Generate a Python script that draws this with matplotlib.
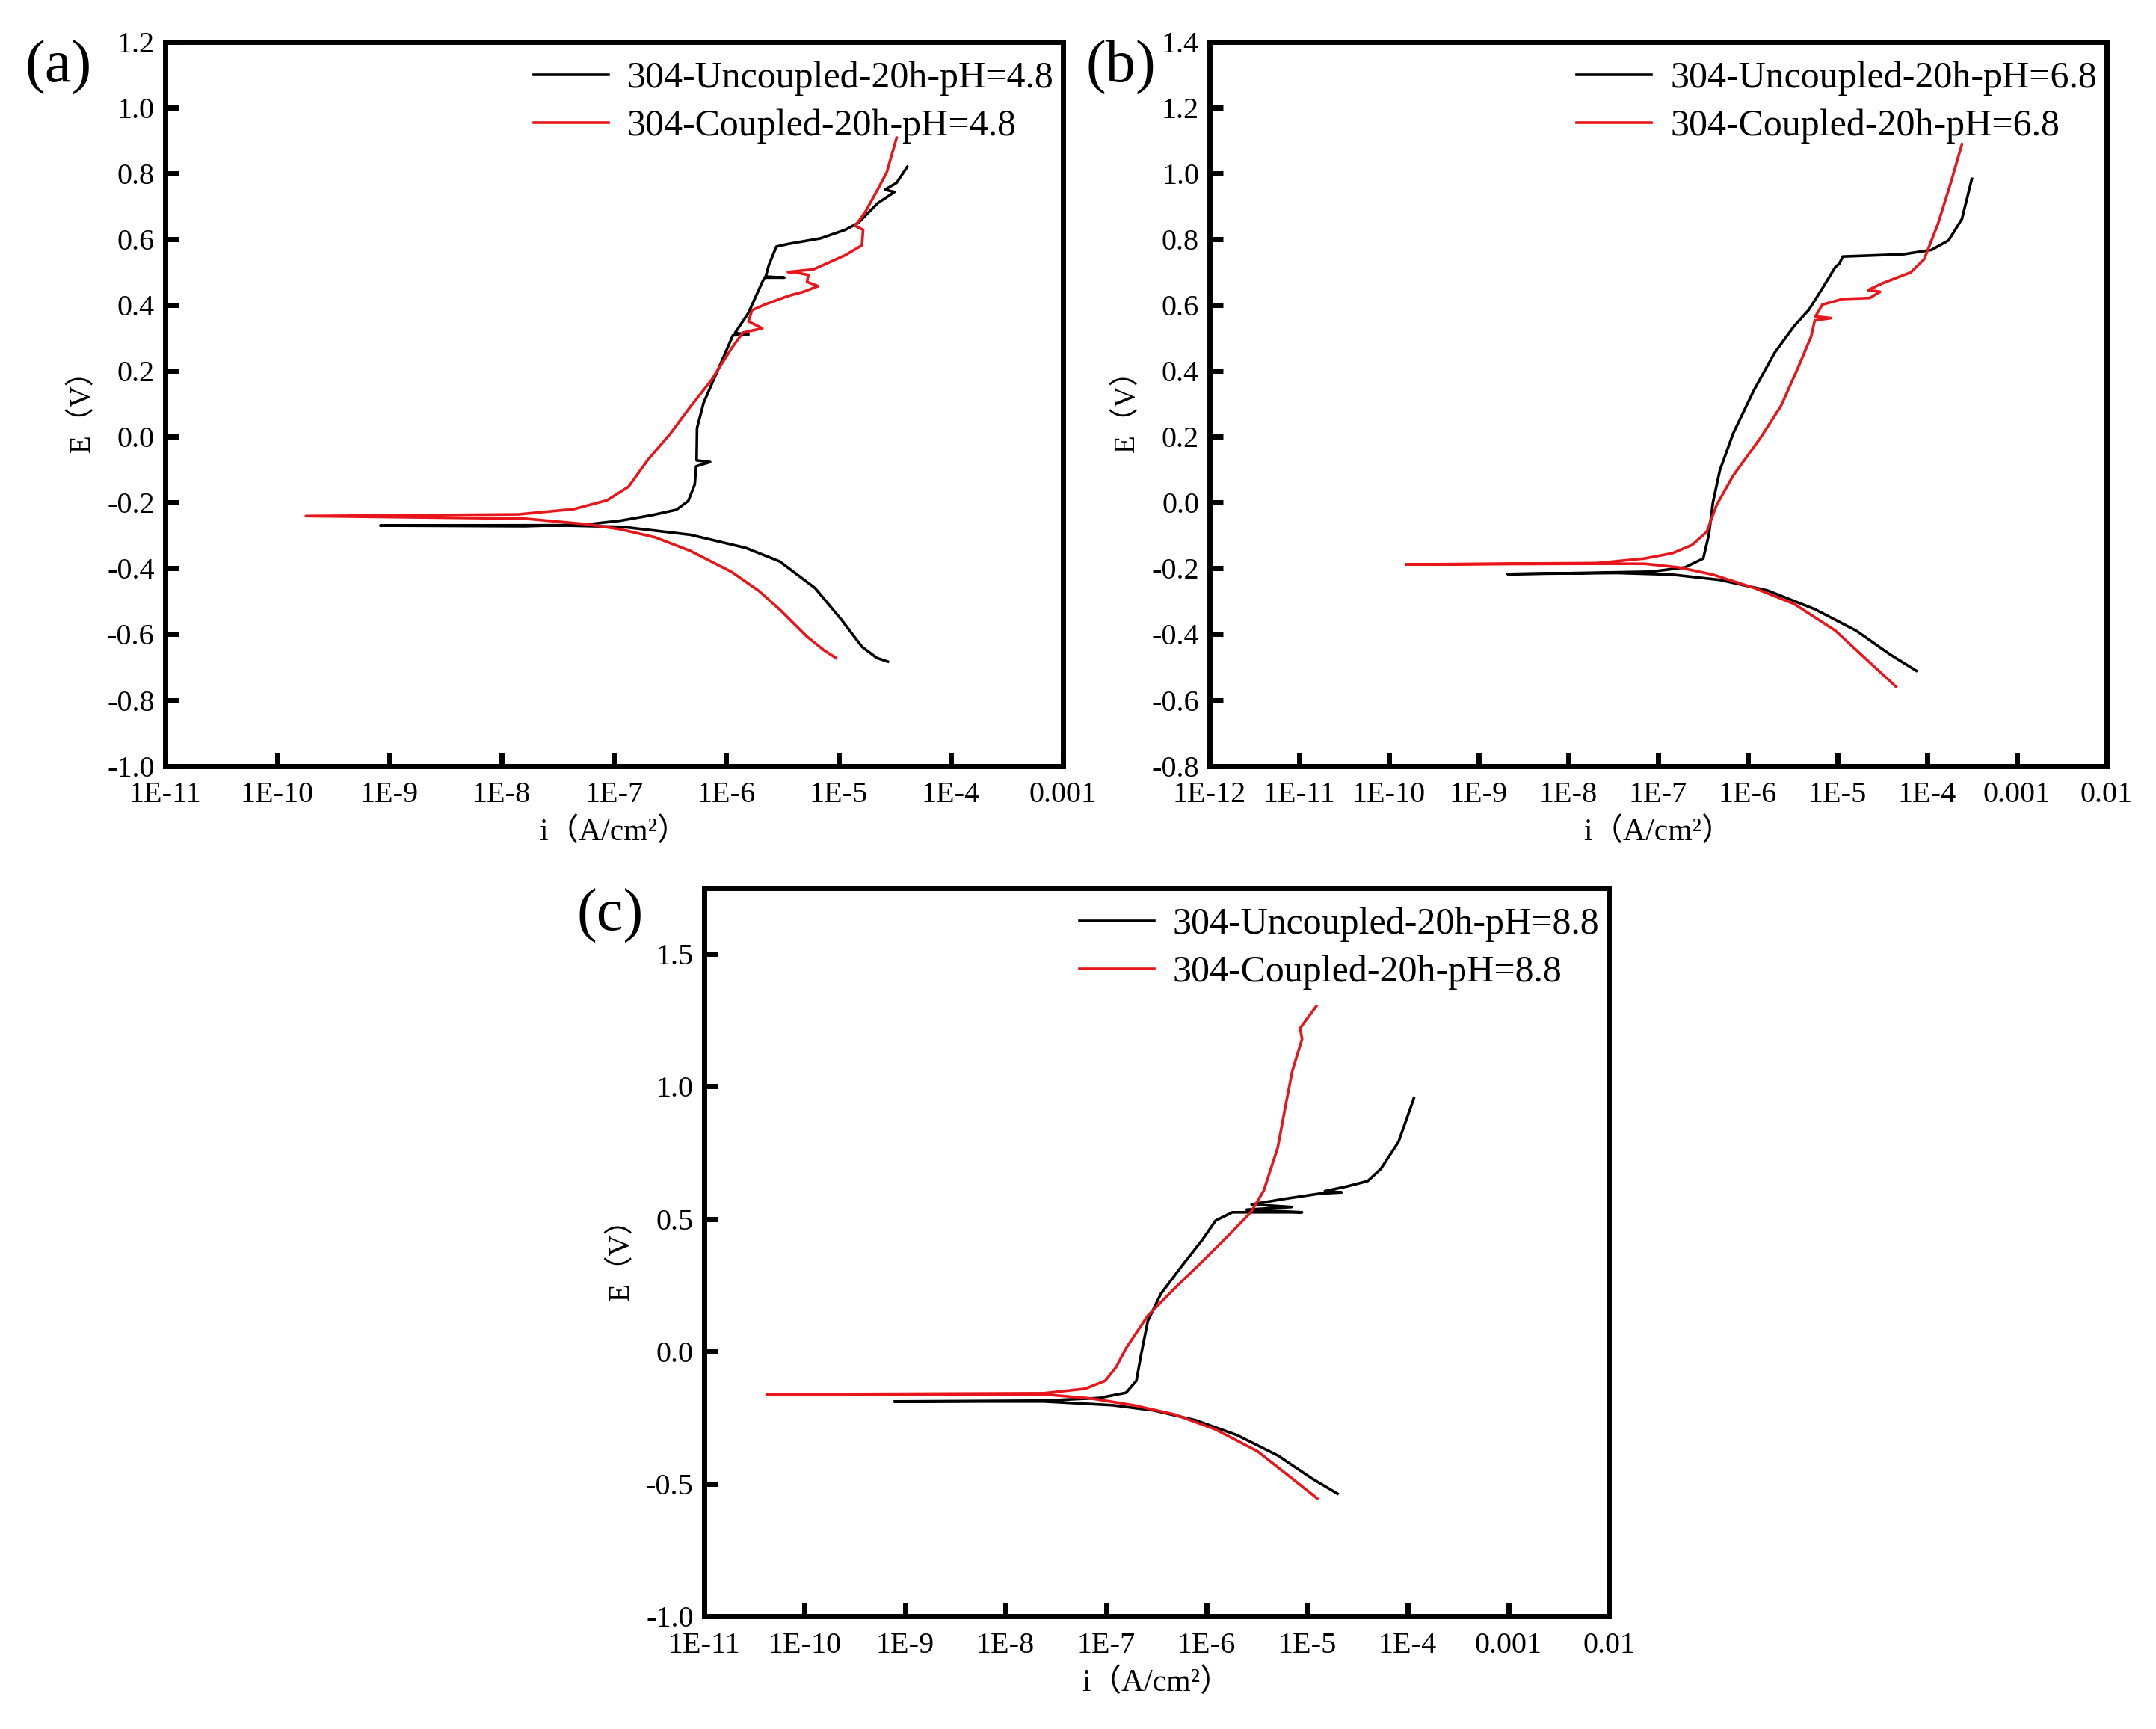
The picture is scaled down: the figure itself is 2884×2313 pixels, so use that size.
import matplotlib
matplotlib.use("Agg")
from matplotlib import pyplot as plt
from matplotlib.ticker import NullLocator

plt.rcParams['font.family'] = ['Liberation Serif', 'Noto Sans CJK SC']

# ---- panel (a) pH=4.8 : current (A/cm2) / potential (V)
a_unc_i = [2.75e-5, 2.2e-5, 1.62e-5, 1.07e-5, 6.2e-6, 3.0e-6, 1.5e-6, 4.8e-7, 1.2e-7, 2.8e-8, 8.3e-10,
           1.6e-8, 6.0e-8, 1.15e-7, 2.2e-7, 3.6e-7, 4.6e-7, 5.25e-7, 5.4e-7, 7.2e-7, 5.45e-7, 5.5e-7,
           6.3e-7, 8.3e-7, 1.15e-6, 1.58e-6, 1.2e-6, 1.58e-6, 2.1e-6, 2.2e-6, 3.3e-6, 2.25e-6,
           2.4e-6, 2.8e-6, 3.55e-6, 6.9e-6, 1.15e-5, 1.5e-5, 2.24e-5, 3.16e-5, 2.6e-5, 3.3e-5, 4.1e-5]
a_unc_E = [-0.683, -0.672, -0.638, -0.557, -0.46, -0.379, -0.338, -0.298, -0.274, -0.269, -0.270,
           -0.272, -0.266, -0.255, -0.238, -0.222, -0.195, -0.145, -0.09, -0.077, -0.072, 0.026,
           0.103, 0.197, 0.308, 0.31, 0.315, 0.376, 0.47, 0.483, 0.483, 0.486,
           0.521, 0.577, 0.585, 0.602, 0.628, 0.649, 0.709, 0.743, 0.75, 0.771, 0.819]
a_cpl_i = [9.5e-6, 7.4e-6, 5.2e-6, 3.0e-6, 1.95e-6, 1.12e-6, 4.8e-7, 2.34e-7, 1.17e-7, 5.75e-8, 1.62e-8, 1.8e-10,
           1.4e-8, 4.4e-8, 8.7e-8, 1.35e-7, 2.0e-7, 3.2e-7, 4.8e-7, 7.4e-7, 1.12e-6, 1.41e-6,
           2.1e-6, 1.58e-6, 1.7e-6, 2.24e-6, 2.6e-6, 3.3e-6, 3.8e-6, 4.9e-6, 6.6e-6, 5.25e-6,
           5.4e-6, 4.6e-6, 3.55e-6, 6.0e-6, 8.9e-6, 1.15e-5, 1.62e-5, 1.66e-5, 1.41e-5, 1.74e-5,
           2.24e-5, 2.7e-5, 3.3e-5]
a_cpl_E = [-0.672, -0.648, -0.606, -0.525, -0.468, -0.411, -0.347, -0.306, -0.282, -0.266, -0.249, -0.241,
           -0.236, -0.22, -0.193, -0.152, -0.071, 0.01, 0.091, 0.172, 0.269, 0.316,
           0.329, 0.35, 0.384, 0.402, 0.41, 0.423, 0.43, 0.44, 0.457, 0.47,
           0.491, 0.496, 0.50, 0.508, 0.534, 0.551, 0.581, 0.628, 0.64, 0.683,
           0.751, 0.803, 0.908]

# ---- panel (b) pH=6.8
b_unc_i = [7.6e-5, 3.9e-5, 1.62e-5, 5.6e-6, 1.66e-6, 4.9e-7, 1.45e-7, 3.5e-8, 2.1e-9,
           8.7e-9, 8.5e-8, 2.0e-7, 3.2e-7, 3.7e-7, 4.1e-7, 4.9e-7, 6.9e-7, 1.17e-6, 2.0e-6,
           3.3e-6, 4.8e-6, 6.8e-6, 9.5e-6, 1.05e-5, 1.15e-5, 2.3e-5, 5.5e-5, 1.12e-4, 1.74e-4,
           2.45e-4, 3.16e-4]
b_unc_E = [-0.511, -0.462, -0.389, -0.324, -0.267, -0.235, -0.219, -0.214, -0.217,
           -0.215, -0.21, -0.197, -0.17, -0.097, 0.0, 0.098, 0.21, 0.34, 0.455,
           0.536, 0.585, 0.65, 0.715, 0.725, 0.747, 0.75, 0.754, 0.767, 0.796,
           0.861, 0.983]
b_cpl_i = [4.5e-5, 2.3e-5, 9.5e-6, 3.3e-6, 1.17e-6, 4.1e-7, 1.7e-7, 7.1e-8, 1.74e-8, 1.55e-10,
           2.1e-8, 7.1e-8, 1.45e-7, 2.4e-7, 3.5e-7, 4.5e-7, 6.9e-7, 1.38e-6, 2.35e-6, 3.6e-6,
           5.1e-6, 5.6e-6, 8.5e-6, 5.7e-6, 6.8e-6, 1.15e-5, 2.3e-5, 3.0e-5, 2.2e-5, 3.2e-5,
           6.6e-5, 9.3e-5, 1.32e-4, 1.86e-4, 2.45e-4]
b_cpl_E = [-0.559, -0.486, -0.389, -0.308, -0.259, -0.219, -0.197, -0.186, -0.186, -0.188,
           -0.184, -0.17, -0.154, -0.129, -0.089, -0.008, 0.082, 0.195, 0.293, 0.406,
           0.504, 0.553, 0.56, 0.565, 0.601, 0.618, 0.621, 0.64, 0.645, 0.666,
           0.699, 0.739, 0.845, 0.975, 1.088]

# ---- panel (c) pH=8.8
c_unc_i = [2.0e-5, 1.12e-5, 5.1e-6, 2.0e-6, 7.8e-7, 3.0e-7, 1.15e-7, 2.4e-8, 7.8e-10,
           2.4e-8, 8.5e-8, 1.58e-7, 2.0e-7, 2.24e-7, 2.6e-7, 3.5e-7, 5.6e-7, 9.1e-7, 1.23e-6,
           1.8e-6, 8.9e-6, 2.5e-6, 7.0e-6, 2.8e-6, 6.0e-6, 1.35e-5, 2.2e-5, 1.5e-5, 2.5e-5,
           4.0e-5, 5.4e-5, 8.1e-5, 1.15e-4]
c_unc_E = [-0.537, -0.48, -0.393, -0.316, -0.26, -0.223, -0.203, -0.189, -0.189,
           -0.186, -0.176, -0.156, -0.111, -0.008, 0.115, 0.217, 0.32, 0.422, 0.494,
           0.525, 0.525, 0.535, 0.545, 0.555, 0.576, 0.596, 0.60, 0.605, 0.623,
           0.643, 0.689, 0.791, 0.955]
c_cpl_i = [1.26e-5, 7.1e-6, 3.2e-6, 1.23e-6, 4.8e-7, 1.86e-7, 7.2e-8, 2.4e-8, 4.2e-11,
           2.4e-8, 6.2e-8, 9.8e-8, 1.26e-7, 1.58e-7, 2.6e-7, 4.8e-7, 9.1e-7, 1.7e-6, 2.75e-6,
           3.7e-6, 5.1e-6, 6.0e-6, 7.1e-6, 8.9e-6, 8.5e-6, 1.23e-5]
c_cpl_E = [-0.555, -0.48, -0.377, -0.295, -0.238, -0.203, -0.178, -0.162, -0.162,
           -0.158, -0.141, -0.111, -0.059, 0.012, 0.135, 0.238, 0.34, 0.443, 0.525,
           0.607, 0.77, 0.914, 1.057, 1.18, 1.22, 1.303]

a_xticks = [1e-11, 1e-10, 1e-9, 1e-8, 1e-7, 1e-6, 1e-5, 1e-4, 1e-3]
a_xlabels = ['1E-11', '1E-10', '1E-9', '1E-8', '1E-7', '1E-6', '1E-5', '1E-4', '0.001']
b_xticks = [1e-12, 1e-11, 1e-10, 1e-9, 1e-8, 1e-7, 1e-6, 1e-5, 1e-4, 1e-3, 1e-2]
b_xlabels = ['1E-12', '1E-11', '1E-10', '1E-9', '1E-8', '1E-7', '1E-6', '1E-5', '1E-4', '0.001', '0.01']
c_xticks = [1e-11, 1e-10, 1e-9, 1e-8, 1e-7, 1e-6, 1e-5, 1e-4, 1e-3, 1e-2]
c_xlabels = ['1E-11', '1E-10', '1E-9', '1E-8', '1E-7', '1E-6', '1E-5', '1E-4', '0.001', '0.01']
a_yticks = [-1.0, -0.8, -0.6, -0.4, -0.2, 0.0, 0.2, 0.4, 0.6, 0.8, 1.0, 1.2]
b_yticks = [-0.8, -0.6, -0.4, -0.2, 0.0, 0.2, 0.4, 0.6, 0.8, 1.0, 1.2, 1.4]
c_yticks = [-1.0, -0.5, 0.0, 0.5, 1.0, 1.5]

RED = '#e8161b'


def panel(ax, unc, cpl, ph, xticks, xlabels, yticks, ylim, tag, tagpos):
    ax.plot(unc[0], unc[1], color='black', lw=2.6, label='304-Uncoupled-20h-pH=' + ph)
    ax.plot(cpl[0], cpl[1], color=RED, lw=2.6, label='304-Coupled-20h-pH=' + ph)
    ax.set_xscale('log')
    ax.set_xlim(xticks[0], xticks[-1])
    ax.set_xticks(xticks)
    ax.set_xticklabels(xlabels)
    ax.xaxis.set_minor_locator(NullLocator())
    ax.set_ylim(*ylim)
    ax.set_yticks(yticks)
    ax.set_yticklabels(['{:.1f}'.format(v) for v in yticks])
    ax.tick_params(direction='in', length=13, width=5, labelsize=29, top=False, right=False)
    ax.tick_params(axis='x', pad=15)
    ax.tick_params(axis='y', pad=10)
    for s in ax.spines.values():
        s.set_linewidth(5)
    ax.set_xlabel('i（A/cm²）', fontsize=30, labelpad=8)
    ax.set_ylabel('E（V）', fontsize=28, labelpad=10)
    ax.legend(loc='upper right', bbox_to_anchor=(1.0, 0.986), frameon=False, fontsize=36,
              handlelength=2.0, handletextpad=0.5, borderaxespad=0.0, borderpad=0.25,
              labelspacing=0.35)
    fig.text(tagpos[0], tagpos[1], tag, fontsize=58, ha='center', va='center')


fig = plt.figure(figsize=(28.84, 23.13), dpi=100)
ax_a = fig.add_axes([0.0765, 0.557, 0.4165, 0.419])
ax_b = fig.add_axes([0.561, 0.557, 0.416, 0.419])
ax_c = fig.add_axes([0.3265, 0.0652, 0.4197, 0.4213])

panel(ax_a, (a_unc_i, a_unc_E), (a_cpl_i, a_cpl_E), '4.8', a_xticks, a_xlabels,
      a_yticks, (-1.0, 1.2), '(a)', (0.027, 0.961))
panel(ax_b, (b_unc_i, b_unc_E), (b_cpl_i, b_cpl_E), '6.8', b_xticks, b_xlabels,
      b_yticks, (-0.8, 1.4), '(b)', (0.520, 0.961))
panel(ax_c, (c_unc_i, c_unc_E), (c_cpl_i, c_cpl_E), '8.8', c_xticks, c_xlabels,
      c_yticks, (-1.0, 1.75), '(c)', (0.283, 0.470))

fig.savefig('out.png', dpi=100)
